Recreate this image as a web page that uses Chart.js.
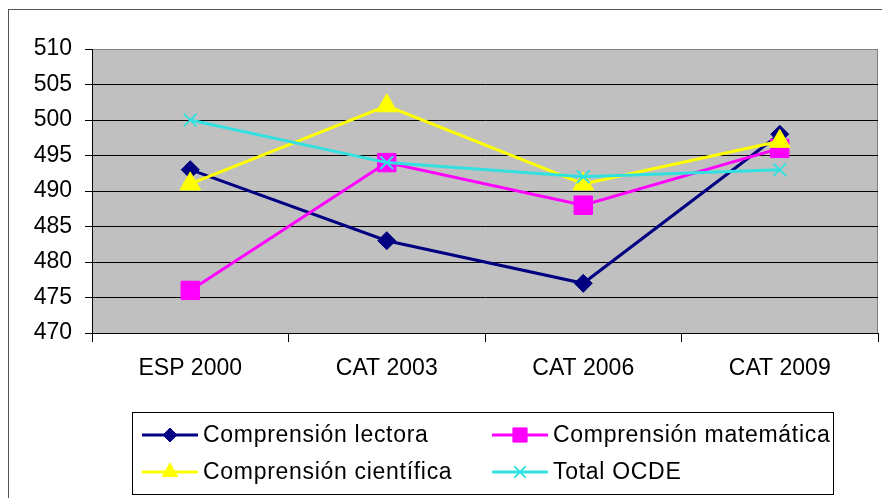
<!DOCTYPE html>
<html>
<head>
<meta charset="utf-8">
<script src="https://cdn.jsdelivr.net/npm/chart.js@4/dist/chart.umd.min.js"></script>
<style>
  html, body { margin: 0; padding: 0; background: #fff; overflow: hidden; }
  #wrap { position: relative; width: 882px; height: 498px; overflow: hidden; }
  #frame { position: absolute; left: 8px; top: 9px; width: 900px; height: 520px; border: 1px solid #555; box-sizing: border-box; }
  canvas { position: absolute; left: 0; top: 0; }
</style>
</head>
<body>
<div id="wrap">
  <div id="frame"></div>
  <canvas id="chart" width="892" height="498"></canvas>
</div>
<script>
'use strict';

// Data
const CATEGORIES = ['ESP 2000', 'CAT 2003', 'CAT 2006', 'CAT 2009'];
const LECTORA    = [493, 483, 477, 498];
const MATEMATICA = [476, 494, 488, 496];
const CIENTIFICA = [491, 502, 491, 497];
const OCDE       = [500, 494, 492, 493];
const Y_MIN = 470, Y_MAX = 510, Y_STEP = 5;

const FONT = "'Liberation Sans', Arial, sans-serif";
const COLORS = { navy: '#000080', magenta: '#ff00ff', yellow: '#ffff00', cyan: '#33e0e0' };

// ── Plot area background ──────────────────────
const plotBg = {
  id: 'plotBg',
  beforeDraw(chart) {
    const { ctx, chartArea: a } = chart;
    ctx.save();
    ctx.fillStyle = '#c0c0c0';
    ctx.fillRect(a.left, a.top, a.right - a.left, a.bottom - a.top);
    ctx.strokeStyle = '#808080';
    ctx.lineWidth = 1;
    ctx.strokeRect(a.left + 0.5, a.top + 0.5, a.right - a.left - 1, a.bottom - a.top);
    ctx.restore();
  },
};

// ── Boxed two column legend ───────────────────
const boxLegend = {
  id: 'boxLegend',
  afterDraw(chart) {
    const { ctx } = chart;
    const box = { x: 132, y: 412, w: 701, h: 82 };
    const cols = [142, 492];
    const rows = [435, 472];
    ctx.save();
    ctx.strokeStyle = '#000';
    ctx.lineWidth = 1;
    ctx.strokeRect(box.x + 0.5, box.y + 0.5, box.w, box.h);
    ctx.font = '23px ' + FONT;
    ctx.letterSpacing = '0.7px';
    ctx.textBaseline = 'middle';
    chart.data.datasets.forEach((ds, i) => {
      const x = cols[i % 2], y = rows[Math.floor(i / 2)];
      ctx.strokeStyle = ds.borderColor;
      ctx.lineWidth = 3;
      ctx.beginPath();
      ctx.moveTo(x, y);
      ctx.lineTo(x + 56, y);
      ctx.stroke();
      ctx.fillStyle = ds.pointBackgroundColor;
      ctx.strokeStyle = ds.pointBorderColor;
      ctx.lineWidth = ds.pointBorderWidth;
      Chart.helpers.drawPoint(ctx, {
        pointStyle: ds.pointStyle, radius: ds.legendRadius, rotation: 0,
        borderWidth: ds.pointBorderWidth,
      }, x + 28, y);
      ctx.fillStyle = '#000';
      ctx.fillText(ds.label, x + 61, y + 1);
    });
    ctx.restore();
  },
};

function series(label, data, color, style, radius, legendRadius, order) {
  return {
    label, data, order,
    borderColor: color,
    borderWidth: 3,
    pointStyle: style,
    pointRadius: radius,
    pointHoverRadius: radius,
    pointBackgroundColor: color,
    pointBorderColor: color,
    pointBorderWidth: style === 'crossRot' ? 2 : 1,
    legendRadius,
    tension: 0,
    fill: false,
  };
}

const ctx = document.getElementById('chart').getContext('2d');
new Chart(ctx, {
  type: 'line',
  data: {
    labels: CATEGORIES,
    datasets: [
      series('Comprensión lectora',    LECTORA,    COLORS.navy,    'rectRot',  9, 7, 4),
      series('Comprensión matemática', MATEMATICA, COLORS.magenta, 'rect',     13, 10, 3),
      series('Comprensión científica', CIENTIFICA, COLORS.yellow,  'triangle', 12, 9, 2),
      series('Total OCDE',             OCDE,       COLORS.cyan,    'crossRot', 9, 8, 1),
    ],
  },
  options: {
    responsive: false,
    animation: false,
    layout: { padding: { top: 49, right: 4, left: 0, bottom: 0 } },
    plugins: { legend: { display: false }, tooltip: { enabled: false } },
    scales: {
      x: {
        offset: true,
        afterFit: s => { s.height = 165; },
        grid: { offset: true, drawOnChartArea: false, drawTicks: true, tickLength: 9, tickColor: '#000', color: '#000' },
        border: { color: '#000', width: 1 },
        ticks: { color: '#000', font: { family: FONT, size: 23 }, padding: 13, maxRotation: 0 },
      },
      y: {
        min: Y_MIN,
        max: Y_MAX,
        afterFit: s => { s.width = 92; },
        grid: {
          color: c => (c.tick && c.tick.value === Y_MAX ? '#808080' : '#000'),
          tickColor: '#000',
          tickLength: 7,
          lineWidth: 1,
        },
        border: { color: '#000', width: 1 },
        ticks: { stepSize: Y_STEP, color: '#000', font: { family: FONT, size: 23 }, padding: 13 },
      },
    },
  },
  plugins: [plotBg, boxLegend],
});
</script>
</body>
</html>
